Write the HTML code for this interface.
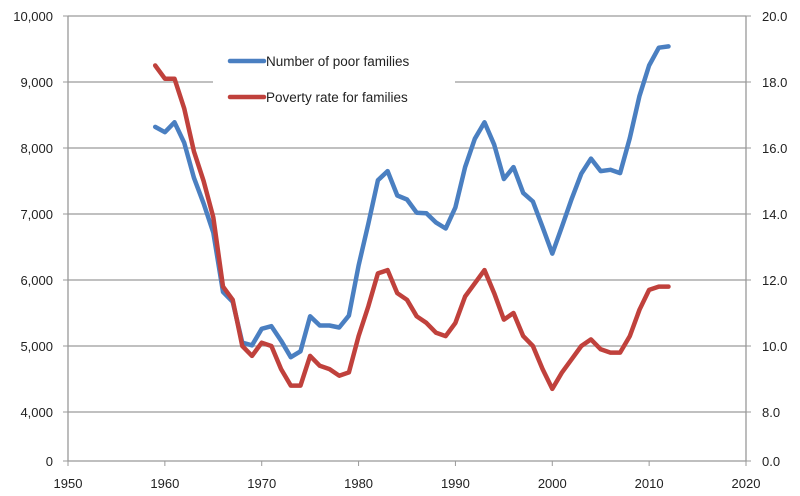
<!DOCTYPE html>
<html><head><meta charset="utf-8"><style>
body{margin:0;background:#fff;}
svg{display:block;font-family:"Liberation Sans",sans-serif;}
</style></head><body>
<svg id="c" width="800" height="496"></svg>
<script>
const years=[];for(let y=1959;y<=2012;y++)years.push(y);
const poorFamilies=[8320,8240,8390,8080,7550,7160,6720,5820,5670,5050,5010,5260,5300,5080,4830,4920,5450,5310,5310,5280,5460,6220,6850,7510,7650,7280,7220,7020,7010,6870,6780,7100,7710,8140,8390,8050,7530,7710,7320,7190,6800,6400,6810,7230,7610,7840,7650,7670,7620,8150,8790,9250,9520,9540];
const povertyRate=[18.5,18.1,18.1,17.2,15.9,15.0,13.9,11.8,11.4,10.0,9.7,10.1,10.0,9.3,8.8,8.8,9.7,9.4,9.3,9.1,9.2,10.3,11.2,12.2,12.3,11.6,11.4,10.9,10.7,10.4,10.3,10.7,11.5,11.9,12.3,11.6,10.8,11.0,10.3,10.0,9.3,8.7,9.2,9.6,10.0,10.2,9.9,9.8,9.8,10.3,11.1,11.7,11.8,11.8];
const leftTicks=[0,4000,5000,6000,7000,8000,9000,10000];
const rightTicks=[0,8,10,12,14,16,18,20];
const xTicks=[1950,1960,1970,1980,1990,2000,2010,2020];
const NS='http://www.w3.org/2000/svg',svg=document.getElementById('c');
const X0=68,X1=746,Y0=461;
const x=v=>X0+(v-1950)/70*(X1-X0);
// axis broken: 0 -> 461, lower tick -> 412, 66px per step above
function yL(v){return v<4000?Y0-(v/4000)*49:412-(v-4000)/1000*66;}
function yR(v){return v<8?Y0-(v/8)*49:412-(v-8)/2*66;}
function el(t,a,p){const e=document.createElementNS(NS,t);for(const k in a)e.setAttribute(k,a[k]);(p||svg).appendChild(e);return e;}
leftTicks.forEach((t,i)=>{const yy=yL(t);
 if(t>0){if(t===9000){const g1=el('line',{x1:X0,x2:213,y1:yy,y2:yy,stroke:'#9a9a9a','stroke-width':1.3});
  const g2=el('line',{x1:455,x2:X1,y1:yy,y2:yy,stroke:'#9a9a9a','stroke-width':1.3});}
 else{const g=el('line',{x1:X0,x2:X1,y1:yy,y2:yy,stroke:'#9a9a9a','stroke-width':1.3});}}
 const l=el('text',{x:53,y:yy+5,'text-anchor':'end','font-size':13,fill:'#222'});l.textContent=t.toLocaleString('en-US');
 
 el('line',{x1:X0-5,x2:X0,y1:yy,y2:yy,stroke:'#999'});});
rightTicks.forEach(t=>{const yy=yR(t);const l=el('text',{x:762,y:yy+5,'font-size':13,fill:'#222'});l.textContent=t.toFixed(1);
 
 el('line',{x1:X1,x2:X1+5,y1:yy,y2:yy,stroke:'#999'});});
xTicks.forEach(t=>{const xx=x(t);el('line',{x1:xx,x2:xx,y1:Y0,y2:Y0+5,stroke:'#999'});
 const l=el('text',{x:xx,y:488,'text-anchor':'middle','font-size':13,fill:'#222'});l.textContent=t;
 });
const ax=el('path',{d:`M${X0},16V${Y0}H${X1}V16`,fill:'none',stroke:'#999','stroke-width':1.3});

function line(vals,fy,col,name){const d=vals.map((v,i)=>(i?'L':'M')+x(years[i]).toFixed(1)+','+fy(v).toFixed(1)).join('');
 const p=el('path',{d,fill:'none',stroke:col,'stroke-width':4.5,'stroke-linejoin':'round','stroke-linecap':'round'});
 }
line(poorFamilies,yL,'#4a7fc1','series-number-of-poor-families');
line(povertyRate,yR,'#c0413c','series-poverty-rate');
const lg=el('g',{});
[['Number of poor families','#4a7fc1',61],['Poverty rate for families','#c0413c',97]].forEach(([t,c,yy])=>{
 el('line',{x1:230,x2:264,y1:yy,y2:yy,stroke:c,'stroke-width':4.5,'stroke-linecap':'round'},lg);
 const tx=el('text',{x:266,y:yy+5,'font-size':13.5,fill:'#222'},lg);tx.textContent=t;
 });
</script>
</body></html>
